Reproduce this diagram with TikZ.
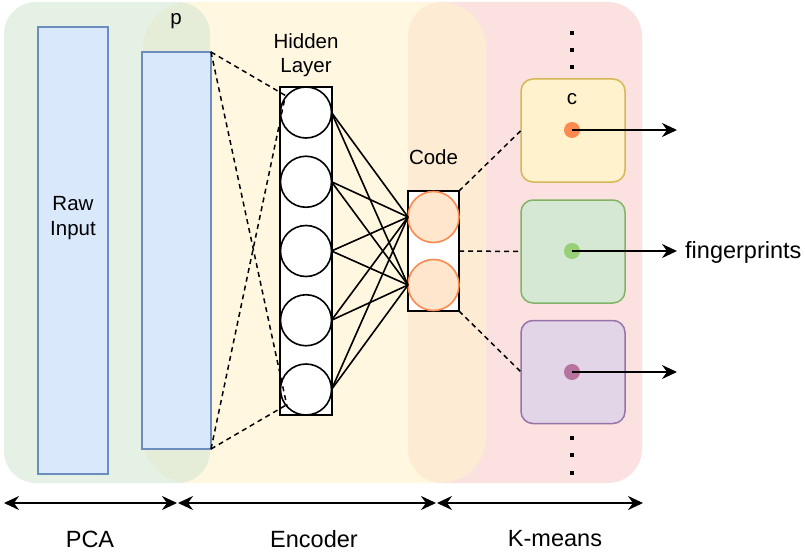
\documentclass[tikz,border=0pt]{standalone}
\usepackage{fontspec}
\setmainfont{Liberation Sans}
\usetikzlibrary{arrows.meta}

\definecolor{pcafill}{HTML}{D5E8D4}
\definecolor{encfill}{HTML}{FFF2CC}
\definecolor{kmfill}{HTML}{F8CECC}
\definecolor{vecfill}{HTML}{DAE8FC}
\definecolor{vecline}{HTML}{6C8EBF}
\definecolor{codefill}{HTML}{FFE6CC}
\definecolor{codeline}{HTML}{FA8A50}
\definecolor{yelfill}{HTML}{FFF2CC}
\definecolor{yelline}{HTML}{D6B656}
\definecolor{grnfill}{HTML}{D5E8D4}
\definecolor{grnline}{HTML}{82B366}
\definecolor{purfill}{HTML}{E1D5E7}
\definecolor{purline}{HTML}{9673A6}
\definecolor{dotorange}{HTML}{FF8A50}
\definecolor{dotgreen}{HTML}{97D077}
\definecolor{dotpurple}{HTML}{B5739D}

\tikzset{
  region/.style={fill opacity=0.6},
  vecbox/.style={draw=vecline, fill=vecfill, line width=1.4pt, inner sep=0pt, outer sep=0pt},
  layerbox/.style={draw=black, fill=white, line width=1.9pt, inner sep=0pt, outer sep=0pt},
  neuron/.style={circle, draw=black, fill=white, line width=1.6pt, minimum size=51pt, inner sep=0pt, outer sep=0pt},
  codeunit/.style={circle, draw=codeline, fill=codefill, line width=1.6pt, minimum size=51pt, inner sep=0pt, outer sep=0pt},
  cluster/.style={rounded corners=12pt, line width=1.5pt, minimum width=104pt, minimum height=103pt, inner sep=0pt, outer sep=0pt},
  centroid/.style={circle, minimum size=16pt, inner sep=0pt, outer sep=0pt},
  dotsq/.style={rectangle, fill=black, minimum size=3.6pt, inner sep=0pt},
  smalltxt/.style={font=\fontsize{20.5}{24.5}\selectfont, align=center, inner sep=0pt},
  bigtxt/.style={font=\fontsize{23.5}{28}\selectfont, inner sep=0pt},
  dashlink/.style={draw=black, line width=1.5pt, dash pattern=on 5pt off 4pt},
  wire/.style={draw=black, line width=1.6pt},
  outarrow/.style={draw=black, line width=1.7pt, -{Stealth[length=15pt,width=14pt,inset=5pt]}},
  spanarrow/.style={draw=black, line width=2pt, {Stealth[length=15pt,width=14pt,inset=5pt]}-{Stealth[length=15pt,width=14pt,inset=5pt]}}
}

\begin{document}
\begin{tikzpicture}[x=1pt,y=-1pt]
\useasboundingbox (0,0) rectangle (805,559);

% stage regions (K-means below, encoder above it, PCA on top)
\fill[kmfill, region, rounded corners=34pt] (408,2) rectangle (642,483);
\fill[encfill, region, rounded corners=46pt] (143,2) rectangle (486,483);
\fill[pcafill, region, rounded corners=32pt] (4,2) rectangle (210,483);

% input vectors
\node[vecbox, minimum width=70pt, minimum height=447pt] (raw) at (73,250.5) {};
\node[smalltxt] (rawlbl) at (73,218) {Raw\\Input};
\node[vecbox, minimum width=69pt, minimum height=397pt] (pvec) at (176.5,250.5) {};
\node[smalltxt] (plbl) at (176,21) {p};

% hidden layer
\node[layerbox, minimum width=52pt, minimum height=328pt] (hid) at (306,251) {};
\node[smalltxt] (hidlbl) at (306,55) {Hidden\\Layer};
\foreach \i in {1,...,5} {
  \node[neuron] (h\i) at (306,{112.5+69.25*(\i-1)}) {};
}

% code layer
\node[layerbox, minimum width=51pt, minimum height=120pt] (code) at (433.5,251) {};
\node[smalltxt] (codelbl) at (433.5,157) {Code};
\node[codeunit] (c1) at (433.5,217) {};
\node[codeunit] (c2) at (433.5,285) {};

% dense connections
\foreach \i in {1,...,5} {
  \foreach \j in {1,2} {
    \draw[wire] (h\i.east) -- (c\j.west);
  }
}

% projection to hidden layer
\draw[dashlink] (pvec.north east) -- (h1.140);
\draw[dashlink] (pvec.south east) -- (h1.146);
\draw[dashlink] (pvec.north east) -- (h5.222);
\draw[dashlink] (pvec.south east) -- (h5.218);

% clusters
\node[cluster, draw=yelline, fill=yelfill] (k1) at (573,130.5) {};
\node[cluster, draw=grnline, fill=grnfill] (k2) at (573,251.5) {};
\node[cluster, draw=purline, fill=purfill] (k3) at (573,372) {};
\node[smalltxt] (clbl) at (572,99) {c};
\node[centroid, fill=dotorange] (d1) at (572,130) {};
\node[centroid, fill=dotgreen] (d2) at (572,251) {};
\node[centroid, fill=dotpurple] (d3) at (572,372) {};

\draw[dashlink] (code.north east) -- (k1.west);
\draw[dashlink] (code.east) -- (k2.west);
\draw[dashlink] (code.south east) -- (k3.west);

% ellipses above and below the clusters
\foreach \y [count=\n] in {33,50,67,438,455,473} {
  \node[dotsq] (el\n) at (572,\y) {};
}

% fingerprint outputs
\coordinate (o1) at (677,130);
\coordinate (o2) at (677,251);
\coordinate (o3) at (677,372);
\draw[outarrow] (d1.center) -- (o1);
\draw[outarrow] (d2.center) -- (o2);
\draw[outarrow] (d3.center) -- (o3);
\node[bigtxt, anchor=west] (fp) at (685,252) {fingerprints};

% stage spans
\coordinate (s0) at (4,503);
\coordinate (s1a) at (177,503);
\coordinate (s1b) at (178,503);
\coordinate (s2a) at (436,503);
\coordinate (s2b) at (437,503);
\coordinate (s3) at (643,503);
\draw[spanarrow] (s0) -- (s1a);
\draw[spanarrow] (s1b) -- (s2a);
\draw[spanarrow] (s2b) -- (s3);
\node[bigtxt] (pcalbl) at (90,539) {PCA};
\node[bigtxt] (enclbl) at (314,539) {Encoder};
\node[bigtxt] (kmlbl) at (555,539) {K-means};
\end{tikzpicture}
\end{document}
